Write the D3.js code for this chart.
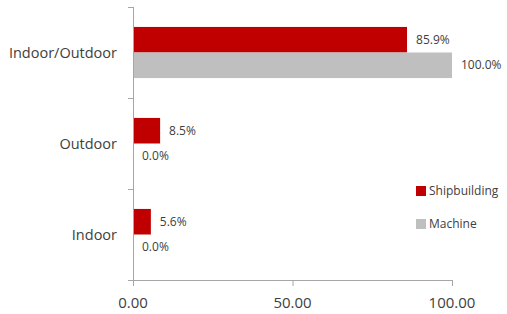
<!DOCTYPE html>
<html>
<head>
<meta charset="utf-8">
<script src="https://cdn.jsdelivr.net/npm/d3@7"></script>
<style>
  body { margin: 0; background: #fff; }
  text { font-family: "Open Sans", "DejaVu Sans", sans-serif; fill: #404040; }
</style>
</head>
<body>
<svg id="chart"></svg>
<script>
const categories = ["Indoor/Outdoor", "Outdoor", "Indoor"];
const seriesNames = ["Shipbuilding", "Machine"];
const shipbuilding = [85.9, 8.5, 5.6];
const machine = [100.0, 0.0, 0.0];
const xTicks = [0, 50, 100];
const colors = ["#c00000", "#bfbfbf"];

const width = 507, height = 314;
const margin = { top: 7, right: 55, bottom: 34, left: 133 };

const svg = d3.select("#chart")
    .attr("width", width)
    .attr("height", height);

const x = d3.scaleLinear()
    .domain([0, 100])
    .range([margin.left, width - margin.right]);

const y0 = d3.scaleBand()
    .domain(categories)
    .range([margin.top, height - margin.bottom])
    .padding(0);

const y1 = d3.scaleBand()
    .domain(seriesNames)
    .range([0, y0.bandwidth()])
    .paddingInner(0)
    .paddingOuter(0.78);

const rows = categories.map((c, i) => ({
    cat: c,
    values: [
        { s: seriesNames[0], v: shipbuilding[i], color: colors[0] },
        { s: seriesNames[1], v: machine[i], color: colors[1] }
    ]
}));

const groups = svg.append("g").selectAll("g")
    .data(rows)
    .join("g")
    .attr("transform", d => `translate(0,${y0(d.cat)})`);

groups.selectAll("rect")
    .data(d => d.values)
    .join("rect")
    .attr("x", x(0))
    .attr("y", d => y1(d.s))
    .attr("width", d => x(d.v) - x(0))
    .attr("height", y1.bandwidth())
    .attr("fill", d => d.color);

groups.selectAll("text.lbl")
    .data(d => d.values)
    .join("text")
    .attr("class", "lbl")
    .attr("x", d => x(d.v) + 9)
    .attr("y", d => y1(d.s) + y1.bandwidth() / 2)
    .attr("dy", "0.35em")
    .style("font-size", "12px")
    .text(d => d.v.toFixed(1) + "%");

// axes
const axisColor = "#a6a6a6";
const yBottom = height - margin.bottom;

svg.append("line")
    .attr("x1", x(0) + 0.5).attr("x2", x(0) + 0.5)
    .attr("y1", margin.top).attr("y2", yBottom)
    .attr("stroke", axisColor);

const yEdges = categories.map(c => y0(c)).concat([yBottom]);
svg.append("g").selectAll("line")
    .data(yEdges)
    .join("line")
    .attr("x1", x(0) - 5).attr("x2", x(0))
    .attr("y1", d => d + 0.5).attr("y2", d => d + 0.5)
    .attr("stroke", axisColor);

svg.append("line")
    .attr("x1", x(0)).attr("x2", x(100))
    .attr("y1", yBottom + 0.5).attr("y2", yBottom + 0.5)
    .attr("stroke", axisColor);

svg.append("g").selectAll("line")
    .data(xTicks)
    .join("line")
    .attr("x1", d => x(d) + 0.5).attr("x2", d => x(d) + 0.5)
    .attr("y1", yBottom).attr("y2", yBottom + 6)
    .attr("stroke", axisColor);

svg.append("g").selectAll("text")
    .data(xTicks)
    .join("text")
    .attr("x", d => x(d))
    .attr("y", yBottom + 23)
    .attr("dy", "0.35em")
    .attr("text-anchor", "middle")
    .style("font-size", "15px")
    .text(d => d.toFixed(2));

svg.append("g").selectAll("text")
    .data(categories)
    .join("text")
    .attr("x", x(0) - 16)
    .attr("y", d => y0(d) + y0.bandwidth() / 2)
    .attr("dy", "0.35em")
    .attr("text-anchor", "end")
    .style("font-size", "14.5px")
    .text(d => d);

// legend
const legend = svg.append("g").attr("transform", "translate(416,186)");
const li = legend.selectAll("g")
    .data(seriesNames)
    .join("g")
    .attr("transform", (d, i) => `translate(0,${i * 33})`);
li.append("rect")
    .attr("width", 10).attr("height", 10)
    .attr("fill", (d, i) => colors[i]);
li.append("text")
    .attr("x", 13).attr("y", 5)
    .attr("dy", "0.35em")
    .style("font-size", "12px")
    .text(d => d);
</script>
</body>
</html>
